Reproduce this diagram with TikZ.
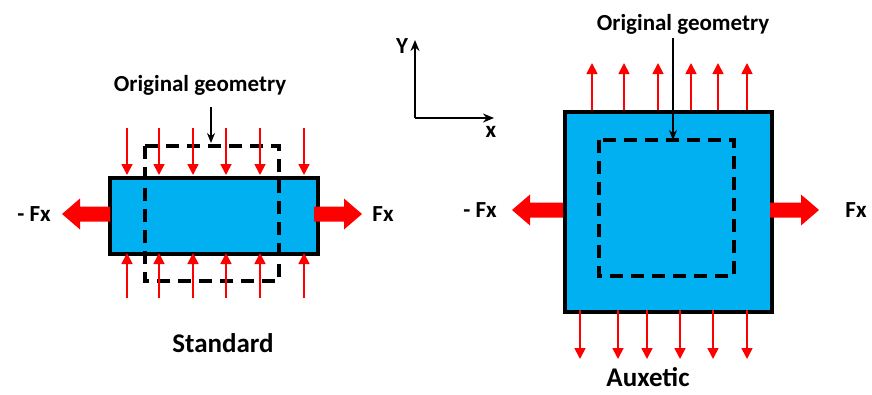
\documentclass[tikz,border=0pt]{standalone}
\usepackage{fontspec}
\setmainfont{Carlito}
\usetikzlibrary{arrows.meta}
\definecolor{boxblue}{HTML}{00B0F0}
\definecolor{fred}{HTML}{FF0000}
\tikzset{
  body/.style={draw=black, line width=3.6pt, fill=boxblue},
  orig/.style={draw=black, line width=3.2pt, dash pattern=on 13pt off 8pt},
  force/.style={draw=fred, line width=1.7pt, -{Triangle[length=11pt,width=11pt]}},
  bigarrow/.style={fill=fred, draw=none},
  lab/.style={font=\bfseries\fontsize{23}{26}\selectfont, inner sep=0pt},
  title/.style={font=\bfseries\fontsize{27}{30}\selectfont, inner sep=0pt, anchor=base},
  pointer/.style={draw=black, line width=1.5pt, -{Stealth[length=10pt,width=8pt]}},
  axis/.style={draw=black, line width=1.8pt, -{Stealth[length=11pt,width=9pt]}}
}
\newcommand{\bigarr}[4]{% tail x, y, tip x, direction sign
  \fill[bigarrow] (#1,#2-7.5) -- (#3-#4*18,#2-7.5) -- (#3-#4*18,#2-15.5) -- (#3,#2) -- (#3-#4*18,#2+15.5) -- (#3-#4*18,#2+7.5) -- (#1,#2+7.5) -- cycle;}
\begin{document}
\begin{tikzpicture}[x=1pt,y=-1pt]
\useasboundingbox (0,0) rectangle (872,394);
% ---------------- Standard ----------------
\node[body, minimum width=208pt, minimum height=76pt, inner sep=0pt, anchor=north west] (sb) at (108,176) {};
\draw[orig] (145,146) rectangle (279,281);
\foreach \x in {127,159,193,226,260,304}{
  \coordinate (st\x) at (\x,128);
  \coordinate (sb\x) at (\x,298);
  \draw[force] (st\x) -- (\x,175);
  \draw[force] (sb\x) -- (\x,253);
}
\bigarr{110}{214}{62}{-1}
\bigarr{314}{214}{362}{1}
\node[lab] (smfx) at (34,214) {- Fx};
\node[lab] (sfx) at (383,214) {Fx};
\node[lab] (sorig) at (200,85) {Original geometry};
\coordinate (sptr) at (211,143);
\draw[pointer] (211,107) -- (sptr);
\node[title] (std) at (223,352) {Standard};
% ---------------- Axes ----------------
\coordinate (o) at (415,118);
\coordinate (yend) at (415,40);
\coordinate (xend) at (494,118);
\draw[axis] (o) -- (yend);
\draw[axis] (o) -- (xend);
\node[lab] (ylab) at (402,46) {Y};
\node[lab] (xlab) at (491,132) {x};
% ---------------- Auxetic ----------------
\node[body, minimum width=207pt, minimum height=200pt, inner sep=0pt, anchor=north west] (ab) at (563,110) {};
\draw[orig] (599,140) rectangle (734,276);
\foreach \x in {592,624,658,691,718,747}{
  \coordinate (at\x) at (\x,63);
  \draw[force] (\x,110) -- (at\x);
}
\foreach \x in {580,618,647,680,713,747}{
  \coordinate (ad\x) at (\x,359);
  \draw[force] (\x,310) -- (ad\x);
}
\bigarr{563}{210}{512}{-1}
\bigarr{770}{210}{819}{1}
\node[lab] (amfx) at (480,210) {- Fx};
\node[lab] (afx) at (856,210) {Fx};
\node[lab] (aorig) at (683,24) {Original geometry};
\coordinate (aptr) at (673,140);
\draw[pointer] (673,38) -- (aptr);
\node[title] (aux) at (648,386) {Auxetic};
\end{tikzpicture}
\end{document}
